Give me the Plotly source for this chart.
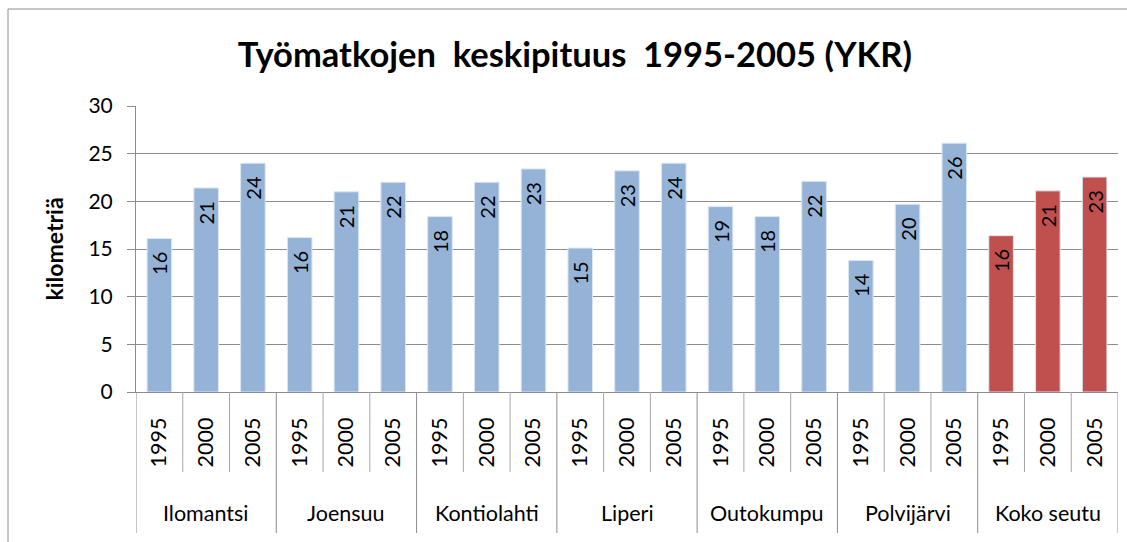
import plotly.graph_objects as go

groups = ["Ilomantsi", "Joensuu", "Kontiolahti", "Liperi", "Outokumpu", "Polvijärvi", "Koko seutu"]
years = ["1995", "2000", "2005"]
values = [
    [16.1, 21.4, 24.0],
    [16.2, 21.0, 22.0],
    [18.4, 22.0, 23.4],
    [15.1, 23.2, 24.0],
    [19.45, 18.4, 22.1],
    [13.8, 19.7, 26.1],
    [16.4, 21.1, 22.55],
]
blue = "#95B3D7"
red = "#C0504D"
highlight_group = "Koko seutu"

xpos, ticktext, yv, cols = [], [], [], []
i = 0
for g, vals in zip(groups, values):
    for yr, v in zip(years, vals):
        xpos.append(i)
        ticktext.append(yr)
        yv.append(v)
        cols.append(red if g == highlight_group else blue)
        i += 1
n = len(xpos)
ny = len(years)

FONT = "Lato, Carlito, Open Sans, sans-serif"
GRAY = "#8C8C8C"
NB = "\u00a0"

fig = go.Figure(go.Bar(
    x=xpos, y=yv,
    marker=dict(color=cols, line=dict(color="#DCE6F2", width=1)),
    width=0.526,
    texttemplate="%{y:.0f}" + NB * 2,
    textposition="inside",
    insidetextanchor="end",
    textangle=-90,
    textfont=dict(family=FONT, size=20, color="black"),
    hovertext=[f"{groups[k // ny]} {ticktext[k]}" for k in range(n)],
    hoverinfo="text+y",
))

fig.update_layout(
    width=1127, height=542,
    margin=dict(l=136, r=9, t=106, b=150),
    paper_bgcolor="white", plot_bgcolor="white",
    showlegend=False,
    uniformtext=dict(minsize=20, mode="show"),
    font=dict(family=FONT, size=20, color="black"),
    title=dict(text="<b>Työmatkojen  keskipituus  1995-2005 (YKR)</b>",
               x=0.51, xanchor="center", y=0.898, yanchor="middle",
               font=dict(family=FONT, size=34.5, color="black")),
)
fig.update_yaxes(
    range=[0, 30], dtick=5, showgrid=True, gridcolor=GRAY, gridwidth=1,
    showline=True, linecolor=GRAY, linewidth=1, ticks="outside", ticklen=8,
    tickcolor=GRAY, zeroline=False, automargin=False,
    title=dict(text="<b>kilometriä</b>", font=dict(size=23), standoff=18),
    tickfont=dict(size=21), ticklabelstandoff=10,
)
fig.update_xaxes(
    range=[-0.5, n - 0.5], tickmode="array", tickvals=xpos, ticktext=ticktext,
    tickangle=-90, ticks="", showgrid=False, zeroline=False, automargin=False,
    showline=True, linecolor=GRAY, linewidth=1,
    tickfont=dict(size=21.5), ticklabelstandoff=16,
)

# separators below the axis: short between years, long between groups
short_y = -(472 - 392) / 286
long_y = -(533 - 392) / 286
for k in range(n + 1):
    xb = k - 0.5
    is_group = (k % ny == 0)
    fig.add_shape(type="line", xref="x", yref="paper", x0=xb, x1=xb,
                  y0=0, y1=long_y if is_group else short_y,
                  line=dict(color=GRAY if is_group else "#A6A6A6", width=1))

for gi, g in enumerate(groups):
    fig.add_annotation(x=gi * ny + (ny - 1) / 2, y=-(513 - 392) / 286,
                       xref="x", yref="paper", text=g, showarrow=False,
                       font=dict(family=FONT, size=21.5, color="black"),
                       xanchor="center", yanchor="middle")

# chart frame
fig.add_shape(type="rect", xref="paper", yref="paper",
              x0=-(136 - 8) / 982, x1=(1140 - 136) / 982,
              y0=-(560 - 392) / 286, y1=(392 - 9) / 286,
              line=dict(color=GRAY, width=1))
fig.write_html("out.html", config={"displayModeBar": False},
               post_script="document.body.style.margin='0px';")
